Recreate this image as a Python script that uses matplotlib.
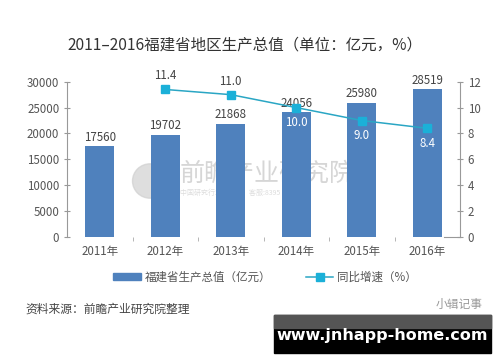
import matplotlib.pyplot as plt
import matplotlib.patches as mpatches
from matplotlib.lines import Line2D
import numpy as np

plt.rcParams["font.family"] = ["Noto Sans CJK SC", "DejaVu Sans"]

years = ["2011年", "2012年", "2013年", "2014年", "2015年", "2016年"]
gdp = [17560, 19702, 21868, 24056, 25980, 28519]
growth_years = ["2012年", "2013年", "2014年", "2015年", "2016年"]
growth = [11.4, 11.0, 10.0, 9.0, 8.4]

BAR_COLOR = "#4f81bd"
LINE_COLOR = "#2aa6c4"
MARKER_COLOR = "#1bb0d8"
TEXT_GRAY = "#555555"

fig = plt.figure(figsize=(5.0, 3.62), dpi=100)
fig.patch.set_facecolor("white")
ax = fig.add_axes([0.134, 0.3453, 0.786, 0.429])

x = np.arange(len(years))
ax.bar(x, gdp, width=0.44, color=BAR_COLOR, zorder=2)
for xi, v in zip(x, gdp):
    ax.text(xi, v + 500, str(v), ha="center", va="bottom", fontsize=8.3, color="#444444", zorder=5)

# watermark behind the bars
ax.add_patch(mpatches.Ellipse((0.30, 0.50), 0.07, 0.095, transform=fig.transFigure,
                              color="#d0d0d0", alpha=0.7, zorder=1))
ax.text(0.36, 0.52, "前瞻产业研究院", fontsize=18, color="#d6d6d6", va="center",
        transform=fig.transFigure, zorder=1)
ax.text(0.36, 0.467, "中国研究行业领导者    客服:8395", fontsize=5, color="#dddddd", va="center",
        transform=fig.transFigure, zorder=1)

ax.set_xlim(-0.5, len(years) - 0.5)
ax.set_ylim(0, 30000)
ax.set_yticks(range(0, 30001, 5000))
ax.set_xticks(x)
ax.set_xticklabels(years)
ax.set_xticks(np.arange(0.5, len(years) - 1, 1), minor=True)
ax.tick_params(axis="x", which="major", length=0, pad=6, labelsize=8.3, labelcolor=TEXT_GRAY)
ax.tick_params(axis="x", which="minor", length=3, color="#aaaaaa", direction="out")
ax.tick_params(axis="y", length=5, direction="inout", color="#999999", labelsize=8.3, labelcolor=TEXT_GRAY, pad=3)
for s in ["top", "bottom", "right"]:
    ax.spines[s].set_visible(False)
ax.spines["left"].set_color("#999999")

ax2 = ax.twinx()
gx = [years.index(y) for y in growth_years]
ax2.plot(gx, growth, color=LINE_COLOR, linewidth=1.1, marker="s", markersize=6,
         markerfacecolor=MARKER_COLOR, markeredgecolor=MARKER_COLOR, zorder=4)
ax2.set_ylim(0, 12)
ax2.set_yticks(range(0, 13, 2))
ax2.tick_params(axis="y", length=5, direction="inout", color="#999999", labelsize=8.3, labelcolor=TEXT_GRAY, pad=3)
for s in ["top", "bottom", "left"]:
    ax2.spines[s].set_visible(False)
ax2.spines["right"].set_color("#999999")
ax2.plot([len(years) - 0.5 - 0.25, len(years) - 0.5], [0, 0], color="#999999", linewidth=0.8, clip_on=False)

for xi, v in zip(gx, growth):
    if xi <= 2 and v > 10.5:
        ax2.text(xi, v + 0.55, f"{v:.1f}", ha="center", va="bottom", fontsize=8.3, color="#444444")
    else:
        ax2.text(xi, v - 0.65, f"{v:.1f}", ha="center", va="top", fontsize=8.3, color="white")

fig.text(0.49, 0.876, "2011–2016福建省地区生产总值（单位：亿元，%）", ha="center", va="center",
         fontsize=11.2, color="#333333")

handles = [mpatches.Patch(color=BAR_COLOR),
           Line2D([0], [0], color=LINE_COLOR, linewidth=1.1, marker="s", markersize=6,
                  markerfacecolor=MARKER_COLOR, markeredgecolor=MARKER_COLOR)]
fig.legend(handles, ["福建省生产总值（亿元）", "同比增速（%）"], loc="center",
           bbox_to_anchor=(0.53, 0.235), ncol=2, frameon=False, fontsize=8.3,
           handlelength=2.4, handleheight=0.6, columnspacing=3.0, handletextpad=0.3,
           labelcolor=TEXT_GRAY)

fig.text(0.05, 0.145, "资料来源：前瞻产业研究院整理", fontsize=8.5, color="#444444", va="center")
fig.text(0.965, 0.16, "小辑记事", fontsize=8.5, color="#999999", va="center", ha="right")

# site banner
fig.patches.append(mpatches.Rectangle((0.548, 0.025), 0.434, 0.105, transform=fig.transFigure,
                                      color="black", zorder=1))
fig.patches.append(mpatches.Rectangle((0.548, 0.095), 0.434, 0.035, transform=fig.transFigure,
                                      color="#555555", zorder=1))
fig.text(0.765, 0.072, "www.jnhapp-home.com", fontsize=11.5, fontweight="bold", color="white",
         ha="center", va="center", family="DejaVu Sans", zorder=3)

fig.savefig("out.png", dpi=100)
